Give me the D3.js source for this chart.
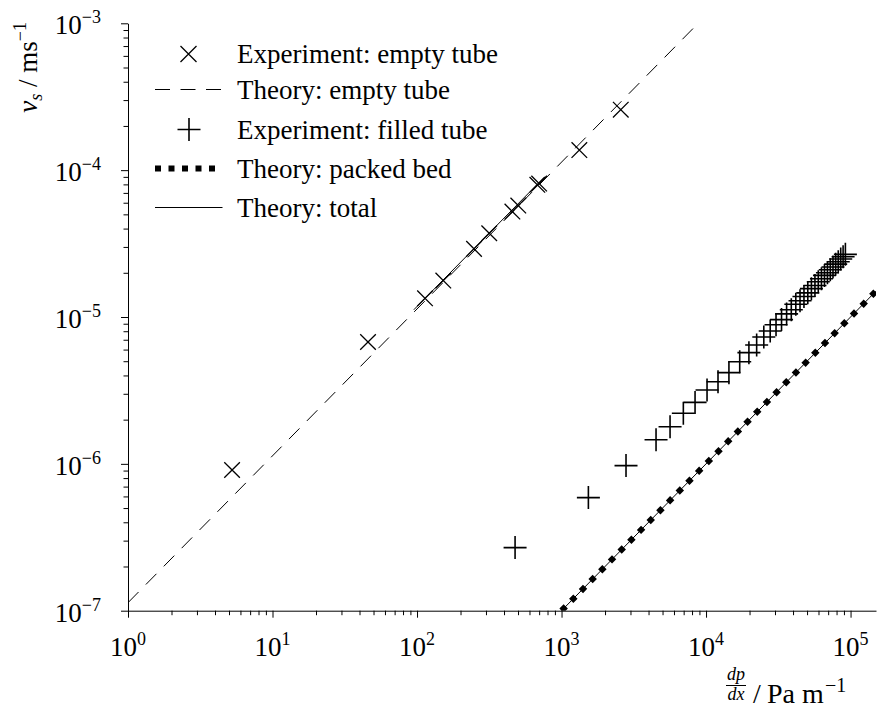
<!DOCTYPE html>
<html>
<head>
<meta charset="utf-8">
<script src="https://cdn.jsdelivr.net/npm/d3@7"></script>
<style>
  html, body { margin: 0; padding: 0; background: #fff; }
  svg { display: block; }
</style>
</head>
<body>
<svg id="chart" width="878" height="718"></svg>
<script>
// Empty tube measurements: pressure gradient (Pa/m) and superficial velocity (m/s)
const emptyGrad = [5.25, 45.8, 113.6, 152, 248, 316, 457, 502, 680, 700, 1328, 2570];
const emptyVel  = [9.08e-7, 6.76e-6, 1.34e-5, 1.77e-5, 2.91e-5, 3.72e-5, 5.22e-5, 5.74e-5, 7.94e-5, 8.1e-5, 1.37e-4, 2.58e-4];

// Filled tube measurements
const filledGrad = [477, 1534, 2794, 4508, 5636, 6965, 8394, 10160, 12100, 14400, 17100, 19800,
  22400, 25100, 27800, 30500, 33300, 36100, 38900, 41800, 44700, 47600, 50600, 53600,
  56700, 59800, 62900, 66000, 69200, 72400, 75600, 78900, 82200, 85500, 88800, 92100];
const filledVel = [2.69e-7, 5.89e-7, 9.73e-7, 1.46e-6, 1.79e-6, 2.21e-6, 2.62e-6, 3.18e-6, 3.62e-6, 4.18e-6, 4.96e-6, 5.72e-6,
  6.45e-6, 7.30e-6, 8.02e-6, 8.85e-6, 9.60e-6, 1.05e-5, 1.12e-5, 1.22e-5, 1.29e-5, 1.38e-5, 1.46e-5, 1.56e-5,
  1.64e-5, 1.74e-5, 1.82e-5, 1.92e-5, 2.00e-5, 2.10e-5, 2.19e-5, 2.29e-5, 2.38e-5, 2.48e-5, 2.57e-5, 2.67e-5];

// Theory curves (straight in log-log, given by their end points)
const theoryEmptyGrad = [1, 8820];
const theoryEmptyVel  = [1.134e-7, 1.0e-3];
const theoryBedGrad   = [1000, 1.5e5];
const theoryBedVel    = [1.0e-7, 1.5e-5];
const theoryTotalEmptyGrad = [95, 760];
const theoryTotalEmptyVel  = [1.12e-5, 8.96e-5];

// Axis decades
const xDecades = [0, 1, 2, 3, 4, 5];
const yDecades = [-7, -6, -5, -4, -3];

const legendLabels = [
  "Experiment: empty tube",
  "Theory: empty tube",
  "Experiment: filled tube",
  "Theory: packed bed",
  "Theory: total"
];

const FONT = "'Liberation Serif', 'Times New Roman', Times, serif";
const svg = d3.select("#chart").attr("font-family", FONT);
const x = d3.scaleLog().domain([1, 1.5e5]).range([128, 876]);
const y = d3.scaleLog().domain([1e-7, 1e-3]).range([610.7, 23.3]);

const FS = 27, SUP = 18;

function txt(parent) {
  return parent.append("text").attr("font-family", FONT).attr("fill", "#000");
}

// minor tick values
const xMinor = [], yMinor = [];
xDecades.forEach(d => { for (let m = 2; m <= 9; m++) { const v = m * Math.pow(10, d); if (v <= 1.5e5) xMinor.push(v); } });
yDecades.slice(0, -1).forEach(d => { for (let m = 2; m <= 9; m++) yMinor.push(m * Math.pow(10, d)); });

function styleAxis(g) {
  g.selectAll("path.domain").attr("stroke", "#000").attr("stroke-width", 1);
  g.selectAll(".tick line").attr("stroke", "#000").attr("stroke-width", 1);
  g.selectAll(".tick text").remove();
}

const xAxisY = y.range()[0];
const yAxisX = x.range()[0];

svg.append("g").attr("transform", `translate(0,${xAxisY})`)
  .call(d3.axisBottom(x).tickValues(xMinor).tickSize(4.5).tickSizeOuter(0).tickFormat(""))
  .call(styleAxis);
svg.append("g").attr("transform", `translate(0,${xAxisY})`)
  .call(d3.axisBottom(x).tickValues(xDecades.map(d => Math.pow(10, d))).tickSize(7).tickSizeOuter(0).tickFormat(""))
  .call(styleAxis).call(g => g.select("path.domain").remove());

svg.append("g").attr("transform", `translate(${yAxisX},0)`)
  .call(d3.axisLeft(y).tickValues(yMinor).tickSize(4.5).tickSizeOuter(0).tickFormat(""))
  .call(styleAxis);
svg.append("g").attr("transform", `translate(${yAxisX},0)`)
  .call(d3.axisLeft(y).tickValues(yDecades.map(d => Math.pow(10, d))).tickSize(7).tickSizeOuter(0).tickFormat(""))
  .call(styleAxis).call(g => g.select("path.domain").remove());

// tick labels with superscript exponents
xDecades.forEach(d => {
  const t = txt(svg).attr("x", x(Math.pow(10, d))).attr("y", xAxisY + 45)
    .attr("text-anchor", "middle").attr("font-size", FS);
  t.append("tspan").text("10");
  t.append("tspan").attr("dy", -11).attr("font-size", SUP).text(String(d));
});
yDecades.forEach(d => {
  const t = txt(svg).attr("x", 101).attr("y", y(Math.pow(10, d)) + 11)
    .attr("text-anchor", "end").attr("font-size", FS);
  t.append("tspan").text("10");
  t.append("tspan").attr("dy", -11).attr("font-size", SUP).text("\u2212" + Math.abs(d));
});

// axis titles
const yl = txt(svg).attr("transform", "translate(37,22) rotate(-90)")
  .attr("text-anchor", "end").attr("font-size", FS);
yl.append("tspan").attr("font-style", "italic").text("v");
yl.append("tspan").attr("font-style", "italic").attr("font-size", SUP).attr("dy", 5).text("s");
yl.append("tspan").attr("dy", -5).text(" / ms");
yl.append("tspan").attr("font-size", SUP).attr("dy", -11).text("\u22121");

const fx = 736;
txt(svg).attr("x", fx).attr("y", 680).attr("text-anchor", "middle")
  .attr("font-size", 18).attr("font-style", "italic").text("dp");
svg.append("line").attr("x1", fx - 10).attr("x2", fx + 10).attr("y1", 685.5).attr("y2", 685.5)
  .attr("stroke", "#000").attr("stroke-width", 1);
txt(svg).attr("x", fx).attr("y", 700).attr("text-anchor", "middle")
  .attr("font-size", 18).attr("font-style", "italic").text("dx");
const xl = txt(svg).attr("y", 703).attr("font-size", 28);
xl.append("tspan").attr("x", 753).text("/");
xl.append("tspan").attr("x", 767).text("Pa");
xl.append("tspan").attr("x", 802).text("m");
xl.append("tspan").attr("x", 825).attr("font-size", 20).attr("dy", -11).text("\u22121");

// plot clip
svg.append("defs").append("clipPath").attr("id", "plot")
  .append("rect").attr("x", yAxisX).attr("y", y.range()[1]).attr("width", x.range()[1] - yAxisX)
  .attr("height", xAxisY - y.range()[1]);

const line = d3.line().x(d => x(d[0])).y(d => y(d[1]));
const plot = svg.append("g").attr("clip-path", "url(#plot)");

const zip = (a, b) => a.map((v, i) => [v, b[i]]);

plot.append("path").datum(zip(theoryEmptyGrad, theoryEmptyVel)).attr("d", line)
  .attr("fill", "none").attr("stroke", "#000").attr("stroke-width", 1).attr("stroke-dasharray", "15,10.5");
plot.append("path").datum(zip(theoryBedGrad, theoryBedVel)).attr("d", line)
  .attr("fill", "none").attr("stroke", "#000").attr("stroke-width", 6).attr("stroke-dasharray", "6,7.8");
plot.append("path").datum(zip(theoryBedGrad, theoryBedVel)).attr("d", line)
  .attr("fill", "none").attr("stroke", "#000").attr("stroke-width", 1);
plot.append("path").datum(zip(theoryTotalEmptyGrad, theoryTotalEmptyVel)).attr("d", line)
  .attr("fill", "none").attr("stroke", "#000").attr("stroke-width", 1);

function crossPath(cx, cy, r) {
  return `M${cx - r},${cy - r}L${cx + r},${cy + r}M${cx - r},${cy + r}L${cx + r},${cy - r}`;
}
function plusPath(cx, cy, r) {
  return `M${cx - r},${cy}L${cx + r},${cy}M${cx},${cy - r}L${cx},${cy + r}`;
}

svg.append("g").selectAll("path").data(zip(emptyGrad, emptyVel)).join("path")
  .attr("d", d => crossPath(x(d[0]), y(d[1]), 7.8))
  .attr("stroke", "#000").attr("stroke-width", 1.3).attr("fill", "none");
svg.append("g").selectAll("path").data(zip(filledGrad, filledVel)).join("path")
  .attr("d", d => plusPath(x(d[0]), y(d[1]), 11.5))
  .attr("stroke", "#000").attr("stroke-width", 1.6).attr("fill", "none");

// legend
const lg = svg.append("g");
const rows = [54, 89.5, 129.5, 168.5, 207.5];
const textX = 237;
lg.append("path").attr("d", crossPath(188.5, rows[0], 8)).attr("stroke", "#000").attr("stroke-width", 1.3);
lg.append("line").attr("x1", 155).attr("x2", 222).attr("y1", rows[1]).attr("y2", rows[1])
  .attr("stroke", "#000").attr("stroke-width", 1).attr("stroke-dasharray", "15,10.5");
lg.append("path").attr("d", plusPath(189, rows[2], 11.5)).attr("stroke", "#000").attr("stroke-width", 1.6);
lg.append("line").attr("x1", 155).attr("x2", 216).attr("y1", rows[3]).attr("y2", rows[3])
  .attr("stroke", "#000").attr("stroke-width", 6).attr("stroke-dasharray", "6,7.5");
lg.append("line").attr("x1", 155).attr("x2", 222.5).attr("y1", rows[4]).attr("y2", rows[4])
  .attr("stroke", "#000").attr("stroke-width", 1);
legendLabels.forEach((s, i) => {
  txt(lg).attr("x", textX).attr("y", rows[i] + 9).attr("font-size", FS).text(s);
});
</script>
</body>
</html>
